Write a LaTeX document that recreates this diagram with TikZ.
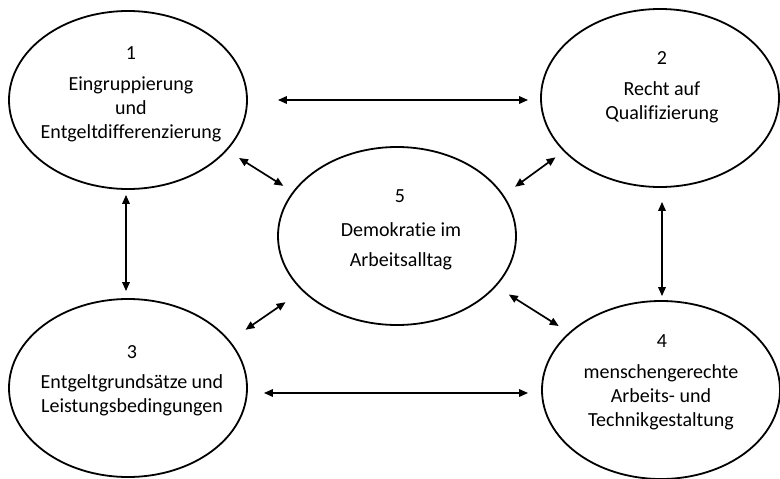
\documentclass[tikz,border=0pt]{standalone}
\usepackage{fontspec}
\setmainfont{Carlito}[Ligatures=NoCommon]
\usetikzlibrary{arrows.meta,shapes.geometric}
\begin{document}
\begin{tikzpicture}[x=1pt,y=-1pt,
    field/.style={ellipse,draw,line width=1.8pt,minimum width=238pt,minimum height=178pt,inner sep=0pt},
    txt/.style={align=center,inner sep=0pt,font=\fontsize{20pt}{24pt}\selectfont},
    link/.style={line width=1.7pt,{Triangle[length=9pt,width=7.5pt]}-{Triangle[length=9pt,width=7.5pt]}}]
\useasboundingbox (0,0) rectangle (780,479);
\node[field] (e1) at (128,100) {};
\node[field] (e2) at (660,98) {};
\node[field] (e3) at (128,388) {};
\node[field] (e4) at (661,390) {};
\node[field] (e5) at (397,236) {};
\node[txt] (n1) at (131,53) {1};
\node[txt] (t1) at (131,109) {Eingruppierung\\und\\Entgeltdifferenzierung};
\node[txt] (n2) at (662,58) {2};
\node[txt] (t2) at (662,102) {Recht auf\\Qualifizierung};
\node[txt] (n3) at (132,352) {3};
\node[txt] (t3) at (132,395) {Entgeltgrundsätze und\\Leistungsbedingungen};
\node[txt] (n4) at (662,341) {4};
\node[txt] (t4) at (661,397) {menschengerechte\\Arbeits- und\\Technikgestaltung};
\node[txt] (n5) at (400,196) {5};
\node[txt] (t5) at (401,246) {Demokratie im\\[6pt]Arbeitsalltag};
\draw[link,shorten <=30pt,shorten >=12pt] (e1.east) -- (e1.east -| e2.west);
\draw[link,shorten <=16pt,shorten >=13pt] ([yshift=-5pt]e3.east) -- ([yshift=-5pt]e3.east -| e4.west);
\draw[link,shorten <=5pt,shorten >=7pt] ([xshift=-2pt]e1.south) -- ([xshift=-2pt]e1.south |- e3.north);
\draw[link,shorten <=14pt,shorten >=4pt] ([xshift=2pt]e2.south) -- ([xshift=2pt]e2.south |- e4.north);
\draw[link,shorten <=14pt,shorten >=11pt] (e1.-27.7) -- (e5.157.5);
\draw[link,shorten <=10pt,shorten >=14pt] (e2.209.8) -- (e5.21.1);
\draw[link,shorten <=19pt,shorten >=20pt] (e3.25.6) -- (e5.210.2);
\draw[link,shorten <=12pt,shorten >=15pt] (e4.148) -- (e5.-27.5);
\end{tikzpicture}
\end{document}
